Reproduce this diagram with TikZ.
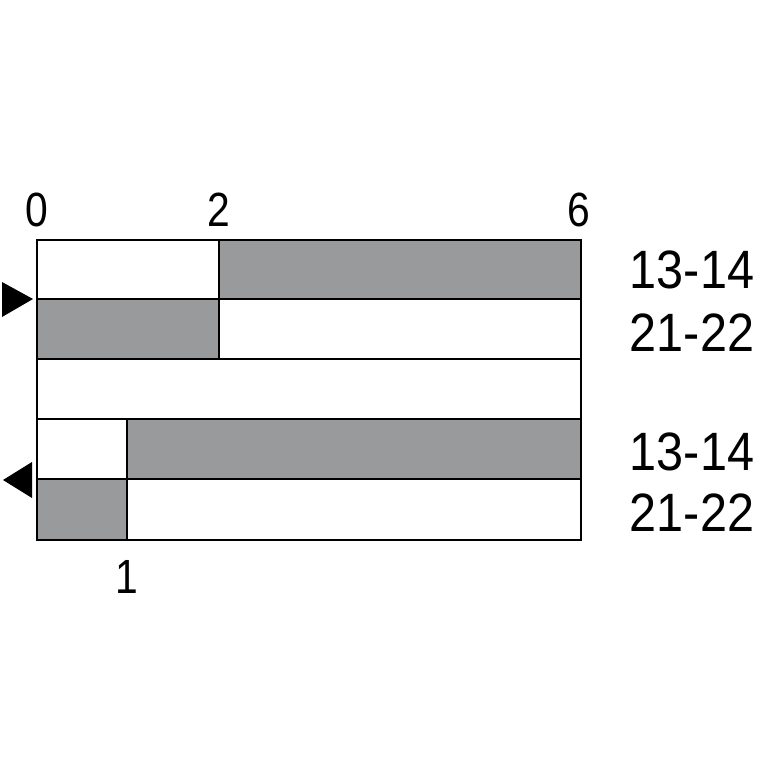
\documentclass[tikz,border=0pt]{standalone}
\usepackage{fontspec}
\setmainfont{Liberation Sans}
\definecolor{gr}{HTML}{999A9C}
\begin{document}
\begin{tikzpicture}[x=1pt,y=-1pt,line width=2.2pt,
  cell/.style={draw=black},
  lab/.style={font=\fontsize{54}{54}\selectfont\addfontfeature{FakeStretch=0.9},inner sep=0},
  num/.style={font=\fontsize{48}{48}\selectfont\addfontfeature{FakeStretch=0.85},inner sep=0}]
\useasboundingbox (0,0) rectangle (767,767);
\fill[gr] (219,240) rectangle (581,299);
\fill[gr] (37,299) rectangle (219,359);
\fill[gr] (127,419) rectangle (581,479);
\fill[gr] (37,479) rectangle (127,540);
\draw (37,240) rectangle (581,540);
\draw (37,299) -- (581,299);
\draw (37,359) -- (581,359);
\draw (37,419) -- (581,419);
\draw (37,479) -- (581,479);
\draw (219,240) -- (219,359);
\draw (127,419) -- (127,540);
\node[num] (n0) at (37,210) {0};
\node[num] (n2) at (219,210) {2};
\node[num] (n6) at (579,210) {6};
\node[num] (n1) at (127,577) {1};
\node[lab] (a) at (692,270) {13-14};
\node[lab] (b) at (692,333) {21-22};
\node[lab] (c) at (692,452) {13-14};
\node[lab] (d) at (692,513) {21-22};
\fill (2,282) -- (33,299) -- (2,317) -- cycle;
\fill (32,462) -- (3,480) -- (32,498) -- cycle;
\end{tikzpicture}
\end{document}
